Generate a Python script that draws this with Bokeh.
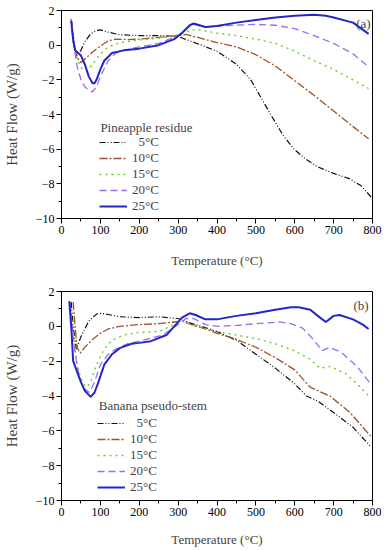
from bokeh.plotting import figure
from bokeh.models import Legend, LegendItem, Label, FixedTicker
from bokeh.layouts import column
from bokeh.embed import file_html
from bokeh.resources import INLINE

# ---------------- data: panel (a) Pineapple residue ----------------
a5_T = [25, 30, 35, 40, 50, 60, 75, 90, 100, 120, 150, 200, 250, 300, 330, 360, 400, 450, 487, 510, 538, 570, 598, 630, 657, 700, 740, 770, 800]
a5_H = [1.5, 0.6, -0.3, -0.6, -0.3, 0.2, 0.65, 0.85, 0.88, 0.75, 0.6, 0.55, 0.55, 0.5, 0.25, 0.0, -0.35, -1.1, -2.0, -2.9, -4.0, -5.2, -6.0, -6.6, -7.0, -7.4, -7.7, -8.1, -8.85]
a10_T = [25, 30, 40, 50, 60, 80, 100, 120, 140, 170, 200, 250, 300, 320, 350, 400, 450, 500, 550, 600, 650, 700, 750, 790]
a10_H = [1.4, 0.3, -0.7, -1.0, -0.8, -0.4, -0.05, 0.25, 0.35, 0.32, 0.35, 0.45, 0.55, 0.62, 0.45, 0.15, -0.1, -0.55, -1.2, -2.05, -2.9, -3.8, -4.7, -5.4]
a15_T = [25, 30, 40, 50, 65, 80, 100, 120, 150, 200, 250, 300, 330, 350, 400, 450, 500, 550, 600, 650, 700, 750, 790]
a15_H = [1.4, 0.4, -0.8, -1.3, -1.5, -1.1, -0.5, -0.1, 0.15, 0.3, 0.4, 0.6, 0.85, 0.9, 0.7, 0.55, 0.35, 0.1, -0.35, -0.9, -1.4, -2.0, -2.5]
a20_T = [25, 30, 40, 50, 60, 70, 80, 90, 100, 120, 140, 160, 200, 250, 300, 320, 340, 370, 400, 450, 500, 550, 600, 650, 700, 750, 790]
a20_H = [1.5, 0.2, -1.2, -2.0, -2.4, -2.6, -2.7, -2.4, -1.8, -0.9, -0.45, -0.3, -0.1, 0.1, 0.55, 0.95, 1.2, 1.05, 1.1, 1.15, 1.2, 1.15, 0.95, 0.55, 0.1, -0.5, -1.25]
a25_T = [25, 30, 35, 40, 50, 60, 70, 80, 85, 90, 100, 110, 130, 160, 200, 250, 290, 310, 330, 340, 355, 370, 400, 450, 500, 550, 600, 650, 680, 700, 750, 790]
a25_H = [1.4, 0.3, -0.3, -0.4, -0.6, -1.1, -1.8, -2.2, -2.2, -2.0, -1.4, -0.9, -0.45, -0.3, -0.2, 0.0, 0.35, 0.7, 1.15, 1.25, 1.15, 1.05, 1.1, 1.3, 1.45, 1.6, 1.7, 1.75, 1.7, 1.6, 1.3, 0.65]

# ---------------- data: panel (b) Banana pseudo-stem ----------------
b5_T = [25, 30, 38, 50, 70, 90, 100, 120, 150, 200, 250, 300, 330, 360, 400, 450, 500, 550, 600, 630, 660, 700, 750, 795]
b5_H = [1.4, 0.0, -1.3, -0.6, 0.3, 0.7, 0.75, 0.68, 0.55, 0.5, 0.55, 0.45, 0.2, 0.0, -0.3, -0.8, -1.6, -2.4, -3.3, -4.0, -4.3, -4.95, -5.8, -6.9]
b10_T = [30, 35, 40, 48, 60, 80, 100, 120, 150, 200, 250, 290, 310, 340, 370, 400, 450, 500, 550, 600, 640, 660, 690, 740, 795]
b10_H = [1.4, 0.0, -1.2, -1.55, -1.2, -0.75, -0.4, -0.15, 0.0, 0.1, 0.15, 0.25, 0.3, 0.05, -0.15, -0.4, -0.75, -1.2, -1.8, -2.5, -3.5, -3.7, -4.0, -4.9, -6.3]
b15_T = [22, 30, 40, 50, 60, 65, 75, 90, 110, 130, 160, 200, 250, 290, 310, 340, 400, 450, 500, 550, 600, 640, 665, 690, 730, 760, 795]
b15_H = [1.4, -0.5, -2.2, -3.0, -3.4, -3.5, -3.2, -2.2, -1.3, -0.8, -0.5, -0.35, -0.3, 0.1, 0.3, 0.05, -0.3, -0.5, -0.7, -1.0, -1.4, -1.9, -2.4, -2.3, -2.7, -3.3, -4.1]
b20_T = [22, 30, 40, 50, 60, 72, 85, 100, 120, 140, 170, 210, 260, 300, 320, 340, 370, 400, 450, 500, 530, 560, 590, 620, 650, 670, 690, 720, 760, 795]
b20_H = [1.4, -0.6, -2.3, -3.2, -3.6, -3.8, -3.2, -2.2, -1.6, -1.3, -1.0, -0.8, -0.5, 0.1, 0.45, 0.45, 0.1, 0.0, 0.05, 0.15, 0.2, 0.25, 0.15, -0.1, -0.8, -1.4, -1.2, -1.5, -2.3, -3.3]
b25_T = [20, 25, 30, 40, 50, 60, 75, 85, 95, 110, 130, 150, 180, 200, 230, 270, 290, 310, 330, 345, 370, 400, 450, 500, 550, 590, 610, 640, 665, 680, 700, 715, 750, 775, 790]
b25_H = [1.45, 0.0, -2.0, -2.6, -3.2, -3.7, -4.05, -3.8, -3.2, -2.2, -1.6, -1.25, -1.0, -0.95, -0.85, -0.5, 0.0, 0.5, 0.75, 0.65, 0.4, 0.4, 0.6, 0.75, 0.95, 1.1, 1.1, 0.95, 0.5, 0.25, 0.6, 0.65, 0.4, 0.1, -0.15]

labels = ["\u20075°C", "10°C", "15°C", "20°C", "25°C"]
x_ticks = [0, 100, 200, 300, 400, 500, 600, 700, 800]
y_ticks = [-10, -8, -6, -4, -2, 0, 2]

colors = ["#111111", "#a0522d", "#6ccc2c", "#9a6cf0", "#2626c8"]
dashes = ["6 2 1 2 1 2", "8 2 2 2", "2 4", "7 4", "solid"]
widths = [1.2, 1.3, 1.4, 1.3, 2.0]

FONT = "Liberation Serif"


def make_panel(series, title_text, panel_tag, top_border, bottom_border, frame_h,
               title_xy, leg_loc, tag_xy, xlab_standoff):
    p = figure(width=385, height=top_border + frame_h + bottom_border,
               x_range=(0, 800), y_range=(-10, 2),
               output_backend="svg", toolbar_location=None,
               min_border_left=59, min_border_right=13,
               min_border_top=top_border, min_border_bottom=bottom_border)
    p.grid.visible = False
    p.outline_line_color = "black"
    p.outline_line_width = 1
    p.background_fill_color = "white"
    items = []
    for (T, H), lab, c, d, w in zip(series, labels, colors, dashes, widths):
        r = p.line(T, H, line_color=c, line_dash=d, line_width=w)
        items.append(LegendItem(label=lab, renderers=[r]))
    leg = Legend(items=items, location=leg_loc, padding=0, margin=0,
                 spacing=0, label_height=16, glyph_height=16, glyph_width=28,
                 label_standoff=5, label_text_font=FONT, label_text_font_size="13px",
                 background_fill_alpha=0, border_line_alpha=0)
    p.add_layout(leg, "center")
    p.add_layout(Label(x=title_xy[0], y=title_xy[1], text=title_text, text_font=FONT,
                       text_font_size="13px", text_baseline="middle"))
    p.add_layout(Label(x=tag_xy[0], y=tag_xy[1], text=panel_tag, text_font=FONT,
                       text_font_size="13px", text_align="right", text_baseline="top"))

    p.xaxis.ticker = FixedTicker(ticks=x_ticks, minor_ticks=list(range(0, 801, 50)))
    p.yaxis.ticker = FixedTicker(ticks=y_ticks, minor_ticks=list(range(-10, 3, 1)))
    p.xaxis.axis_label = "Temperature (°C)"
    p.yaxis.axis_label = "Heat Flow (W/g)"
    for ax in (p.xaxis, p.yaxis):
        ax.axis_label_text_font = FONT
        ax.axis_label_text_font_style = "normal"
        ax.major_label_text_font = FONT
        ax.major_label_text_font_size = "12px"
        ax.major_label_text_color = "black"
        ax.axis_line_color = "black"
        ax.major_tick_line_color = "black"
        ax.minor_tick_line_color = "black"
        ax.major_tick_out = 5
        ax.major_tick_in = 0
        ax.minor_tick_out = 3
        ax.minor_tick_in = 0
        ax.major_label_standoff = 2
    p.xaxis.axis_label_text_font_size = "13px"
    p.yaxis.axis_label_text_font_size = "15px"
    p.xaxis.axis_label_standoff = xlab_standoff
    p.yaxis.axis_label_standoff = 13
    return p


pa = make_panel([(a5_T, a5_H), (a10_T, a10_H), (a15_T, a15_H), (a20_T, a20_H), (a25_T, a25_H)],
                "Pineapple residue", "(a)", 10, 57, 208, (100, -4.73), (38, 4), (795, 1.71), 16)
pb = make_panel([(b5_T, b5_H), (b10_T, b10_H), (b15_T, b15_H), (b20_T, b20_H), (b25_T, b25_H)],
                "Banana pseudo-stem", "(b)", 16, 50, 209, (96, -4.55), (36, 5), (790, 1.6), 13)

layout = column(pa, pb, spacing=0)
open("out.html", "w").write(file_html(layout, INLINE))
